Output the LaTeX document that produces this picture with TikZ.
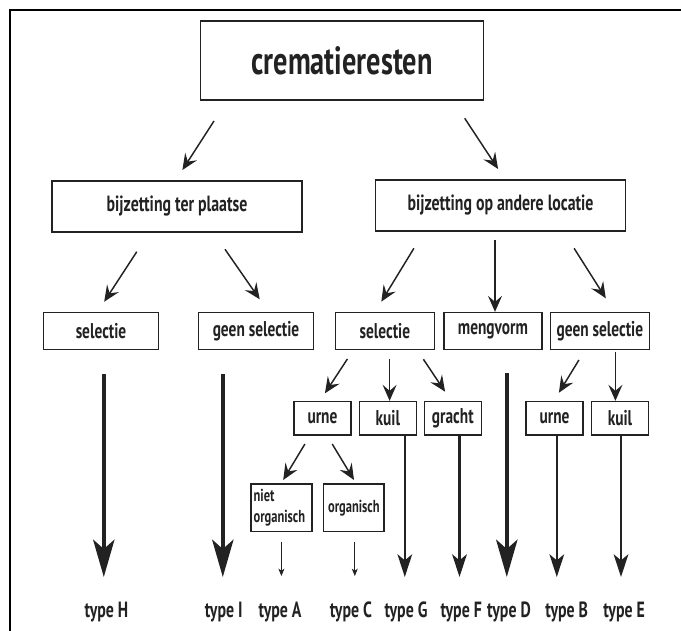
\documentclass[tikz,border=0pt]{standalone}
\usepackage{fontspec}
\setmainfont{PT Sans}[FakeStretch=0.72]
\usetikzlibrary{arrows.meta}
\definecolor{ink}{RGB}{34,34,34}
\begin{document}
\begin{tikzpicture}[x=0.75pt,y=-0.75pt,
  box/.style={draw=ink, line width=1.2pt, inner sep=0pt, text=ink, font=\bfseries\fontsize{16}{18}\selectfont},
  lbl/.style={inner sep=0pt, text=ink, font=\bfseries\fontsize{16.5}{18}\selectfont},
  arr/.style={draw=ink, line width=1.1pt, -{Stealth[length=12pt, width=10.5pt, inset=4.5pt]}},
  bigarr/.style={draw=ink, line width=2.8pt, -{Stealth[length=28pt, width=16pt, inset=7pt]}},
  midarr/.style={draw=ink, line width=1.7pt, -{Stealth[length=17pt, width=11pt, inset=4.5pt]}},
  tinyarr/.style={draw=ink, line width=0.6pt, -{Stealth[length=5.5pt, width=4.5pt, inset=1.5pt]}}]
\useasboundingbox (0,0) rectangle (681,631);
\draw[line width=1.5pt] (9.6,631) -- (9.6,10) -- (681,10);
\node[box, minimum width=212.25pt, minimum height=59.25pt, font=\bfseries\fontsize{29.5}{33}\selectfont] (crem) at (342,60.5){crematieresten};
\node[box, minimum width=187.5pt, minimum height=38.25pt, font=\bfseries\fontsize{16.5}{19}\selectfont] (ter) at (177,206.5){bijzetting ter plaatse};
\node[box, minimum width=187.5pt, minimum height=38.25pt, font=\bfseries\fontsize{16.5}{19}\selectfont] (andere) at (500.5,205.5){bijzetting op andere locatie};
\coordinate (c1) at (214,121);
\coordinate (c2) at (182.4,170);
\draw[arr] (c1) -- (c2);
\coordinate (c3) at (464.7,118.3);
\coordinate (c4) at (498.1,169);
\draw[arr] (c3) -- (c4);
\node[box, minimum width=86.25pt, minimum height=27.5pt] (sel1) at (101,331){selectie};
\node[box, minimum width=86.25pt, minimum height=27.5pt] (geen1) at (256,331){geen selectie};
\node[box, minimum width=74.25pt, minimum height=27.5pt] (sel2) at (384.8,331){selectie};
\node[box, minimum width=73.5pt, minimum height=27.5pt] (meng) at (492.9,331){mengvorm};
\node[box, minimum width=74.25pt, minimum height=27.5pt] (geen2) at (599.8,331){geen selectie};
\coordinate (c5) at (136.8,251.7);
\coordinate (c6) at (104.2,301.7);
\draw[arr] (c5) -- (c6);
\coordinate (c7) at (225,249.3);
\coordinate (c8) at (259.7,299.3);
\draw[arr] (c7) -- (c8);
\coordinate (c9) at (413.9,248.3);
\coordinate (c10) at (381.3,301.7);
\draw[arr] (c9) -- (c10);
\coordinate (c11) at (495,240);
\draw[arr] (c11) -- (c11 |- meng.north);
\coordinate (c12) at (574.1,248.3);
\coordinate (c13) at (605.8,298.3);
\draw[arr] (c12) -- (c13);
\node[box, minimum width=42.75pt, minimum height=25pt] (urne1) at (322.5,418.3){urne};
\node[box, minimum width=42.75pt, minimum height=25pt] (kuil1) at (387.8,418.3){kuil};
\node[box, minimum width=42.75pt, minimum height=25pt] (gracht) at (452.8,418.3){gracht};
\node[box, minimum width=42.75pt, minimum height=25pt] (urne2) at (554.6,418.3){urne};
\node[box, minimum width=42.75pt, minimum height=25pt] (kuil2) at (620,418.3){kuil};
\coordinate (c14) at (347.4,359);
\coordinate (c15) at (324.9,393.3);
\draw[arr] (c14) -- (c15);
\coordinate (c16) at (389.6,359);
\draw[arr] (c16) -- (c16 |- kuil1.north);
\coordinate (c17) at (423.4,359.3);
\coordinate (c18) at (445.1,391.7);
\draw[arr] (c17) -- (c18);
\coordinate (c19) at (578.9,360);
\coordinate (c20) at (558.9,392.7);
\draw[arr] (c19) -- (c20);
\coordinate (c21) at (615.4,351.7);
\draw[arr] (c21) -- (c21 |- kuil2.north);
\node[box, minimum width=45.5pt, minimum height=35.75pt, text width=42pt, align=left, inner sep=1.5pt, font=\bfseries\fontsize{13}{16}\selectfont] (niet) at (281.6,507.8){niet\\organisch};
\node[box, minimum width=45.5pt, minimum height=35.75pt, font=\bfseries\fontsize{13}{16}\selectfont] (org) at (353.9,507.8){organisch};
\coordinate (c22) at (304.9,444);
\coordinate (c23) at (283.2,480);
\draw[arr] (c22) -- (c23);
\coordinate (c24) at (332.2,444);
\coordinate (c25) at (354,480);
\draw[arr] (c24) -- (c25);
\node[lbl] (tH) at (106.4,612){type H};
\node[lbl] (tI) at (223.7,612){type I};
\node[lbl] (tA) at (280.1,612){type A};
\node[lbl] (tC) at (350.9,612){type C};
\node[lbl] (tG) at (406,612){type G};
\node[lbl] (tF) at (461.2,612){type F};
\node[lbl] (tD) at (509,612){type D};
\node[lbl] (tB) at (566.7,612){type B};
\node[lbl] (tE) at (624.1,612){type E};
\coordinate (eH) at (103.8,577);
\coordinate (eI) at (222.8,577);
\coordinate (eD) at (506.8,577);
\draw[bigarr] (eH |- 0,374) -- (eH);
\draw[bigarr] (eI |- 0,374) -- (eI);
\draw[bigarr] (eD |- 0,373) -- (eD);
\coordinate (eG) at (404.8,577);
\coordinate (eF) at (459.5,577);
\coordinate (eB) at (556.8,577);
\coordinate (eE) at (621,577);
\draw[midarr] (kuil1.south -| eG) -- (eG);
\draw[midarr] (gracht.south -| eF) -- (eF);
\draw[midarr] (urne2.south -| eB) -- (eB);
\draw[midarr] (kuil2.south -| eE) -- (eE);
\coordinate (eA) at (281.4,576);
\coordinate (eC) at (354.8,576);
\draw[tinyarr] (eA |- 0,541.7) -- (eA);
\draw[tinyarr] (eC |- 0,541.7) -- (eC);

\end{tikzpicture}
\end{document}
